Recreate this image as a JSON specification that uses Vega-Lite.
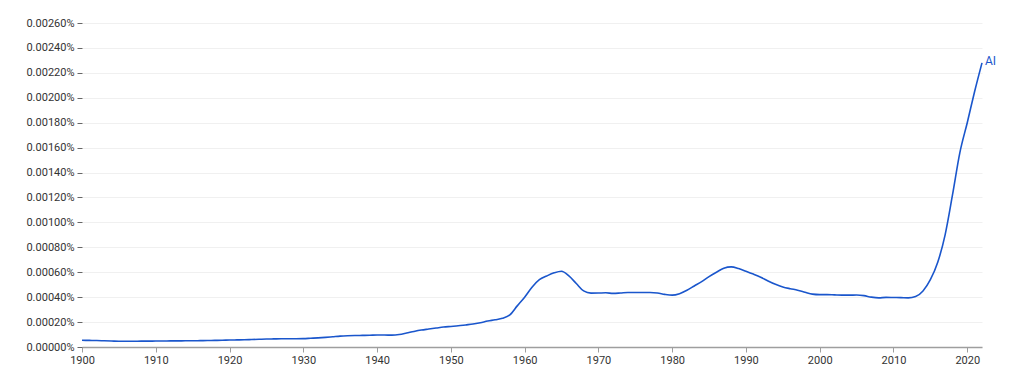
{
  "$schema": "https://vega.github.io/schema/vega-lite/v6.json",
  "width": 900,
  "height": 324,
  "autosize": {"type": "none"},
  "padding": {"left": 82, "top": 23, "right": 42, "bottom": 28},
  "config": {
    "font": "Roboto",
    "view": {"stroke": null},
    "axis": {"labelFont": "Roboto", "labelFontSize": 11, "labelColor": "#333333"}
  },
  "data": {
    "values": [
      {"year":1900,"v":0.000054,"term":"AI"},{"year":1901,"v":0.000053,"term":"AI"},{"year":1902,"v":0.000052,"term":"AI"},{"year":1903,"v":0.000050,"term":"AI"},{"year":1904,"v":0.000048,"term":"AI"},
      {"year":1905,"v":0.000046,"term":"AI"},{"year":1906,"v":0.000046,"term":"AI"},{"year":1907,"v":0.000046,"term":"AI"},{"year":1908,"v":0.000047,"term":"AI"},{"year":1909,"v":0.000047,"term":"AI"},
      {"year":1910,"v":0.000048,"term":"AI"},{"year":1911,"v":0.000048,"term":"AI"},{"year":1912,"v":0.000049,"term":"AI"},{"year":1913,"v":0.000049,"term":"AI"},{"year":1914,"v":0.000050,"term":"AI"},
      {"year":1915,"v":0.000050,"term":"AI"},{"year":1916,"v":0.000051,"term":"AI"},{"year":1917,"v":0.000052,"term":"AI"},{"year":1918,"v":0.000053,"term":"AI"},{"year":1919,"v":0.000054,"term":"AI"},
      {"year":1920,"v":0.000056,"term":"AI"},{"year":1921,"v":0.000057,"term":"AI"},{"year":1922,"v":0.000058,"term":"AI"},{"year":1923,"v":0.000060,"term":"AI"},{"year":1924,"v":0.000062,"term":"AI"},
      {"year":1925,"v":0.000064,"term":"AI"},{"year":1926,"v":0.000065,"term":"AI"},{"year":1927,"v":0.000066,"term":"AI"},{"year":1928,"v":0.000066,"term":"AI"},{"year":1929,"v":0.000066,"term":"AI"},
      {"year":1930,"v":0.000067,"term":"AI"},{"year":1931,"v":0.000070,"term":"AI"},{"year":1932,"v":0.000073,"term":"AI"},{"year":1933,"v":0.000077,"term":"AI"},{"year":1934,"v":0.000082,"term":"AI"},
      {"year":1935,"v":0.000087,"term":"AI"},{"year":1936,"v":0.000090,"term":"AI"},{"year":1937,"v":0.000092,"term":"AI"},{"year":1938,"v":0.000093,"term":"AI"},{"year":1939,"v":0.000094,"term":"AI"},
      {"year":1940,"v":0.000096,"term":"AI"},{"year":1941,"v":0.000096,"term":"AI"},{"year":1942,"v":0.000095,"term":"AI"},{"year":1943,"v":0.000100,"term":"AI"},{"year":1944,"v":0.000112,"term":"AI"},
      {"year":1945,"v":0.000125,"term":"AI"},{"year":1946,"v":0.000136,"term":"AI"},{"year":1947,"v":0.000144,"term":"AI"},{"year":1948,"v":0.000152,"term":"AI"},{"year":1949,"v":0.000160,"term":"AI"},
      {"year":1950,"v":0.000165,"term":"AI"},{"year":1951,"v":0.000170,"term":"AI"},{"year":1952,"v":0.000177,"term":"AI"},{"year":1953,"v":0.000184,"term":"AI"},{"year":1954,"v":0.000195,"term":"AI"},
      {"year":1955,"v":0.000208,"term":"AI"},{"year":1956,"v":0.000218,"term":"AI"},{"year":1957,"v":0.000230,"term":"AI"},{"year":1958,"v":0.000258,"term":"AI"},{"year":1959,"v":0.000330,"term":"AI"},
      {"year":1960,"v":0.000400,"term":"AI"},{"year":1961,"v":0.000480,"term":"AI"},{"year":1962,"v":0.000540,"term":"AI"},{"year":1963,"v":0.000570,"term":"AI"},{"year":1964,"v":0.000595,"term":"AI"},
      {"year":1965,"v":0.000608,"term":"AI"},{"year":1966,"v":0.000570,"term":"AI"},{"year":1967,"v":0.000510,"term":"AI"},{"year":1968,"v":0.000450,"term":"AI"},{"year":1969,"v":0.000432,"term":"AI"},
      {"year":1970,"v":0.000433,"term":"AI"},{"year":1971,"v":0.000435,"term":"AI"},{"year":1972,"v":0.000430,"term":"AI"},{"year":1973,"v":0.000433,"term":"AI"},{"year":1974,"v":0.000437,"term":"AI"},
      {"year":1975,"v":0.000437,"term":"AI"},{"year":1976,"v":0.000437,"term":"AI"},{"year":1977,"v":0.000437,"term":"AI"},{"year":1978,"v":0.000433,"term":"AI"},{"year":1979,"v":0.000422,"term":"AI"},
      {"year":1980,"v":0.000416,"term":"AI"},{"year":1981,"v":0.000428,"term":"AI"},{"year":1982,"v":0.000455,"term":"AI"},{"year":1983,"v":0.000490,"term":"AI"},{"year":1984,"v":0.000525,"term":"AI"},
      {"year":1985,"v":0.000565,"term":"AI"},{"year":1986,"v":0.000600,"term":"AI"},{"year":1987,"v":0.000632,"term":"AI"},{"year":1988,"v":0.000643,"term":"AI"},{"year":1989,"v":0.000630,"term":"AI"},
      {"year":1990,"v":0.000608,"term":"AI"},{"year":1991,"v":0.000585,"term":"AI"},{"year":1992,"v":0.000560,"term":"AI"},{"year":1993,"v":0.000530,"term":"AI"},{"year":1994,"v":0.000503,"term":"AI"},
      {"year":1995,"v":0.000482,"term":"AI"},{"year":1996,"v":0.000468,"term":"AI"},{"year":1997,"v":0.000456,"term":"AI"},{"year":1998,"v":0.000440,"term":"AI"},{"year":1999,"v":0.000424,"term":"AI"},
      {"year":2000,"v":0.000420,"term":"AI"},{"year":2001,"v":0.000420,"term":"AI"},{"year":2002,"v":0.000418,"term":"AI"},{"year":2003,"v":0.000416,"term":"AI"},{"year":2004,"v":0.000416,"term":"AI"},
      {"year":2005,"v":0.000417,"term":"AI"},{"year":2006,"v":0.000412,"term":"AI"},{"year":2007,"v":0.000400,"term":"AI"},{"year":2008,"v":0.000394,"term":"AI"},{"year":2009,"v":0.000398,"term":"AI"},
      {"year":2010,"v":0.000397,"term":"AI"},{"year":2011,"v":0.000396,"term":"AI"},{"year":2012,"v":0.000394,"term":"AI"},{"year":2013,"v":0.000405,"term":"AI"},{"year":2014,"v":0.000450,"term":"AI"},
      {"year":2015,"v":0.000540,"term":"AI"},{"year":2016,"v":0.000680,"term":"AI"},{"year":2017,"v":0.000900,"term":"AI"},{"year":2018,"v":0.001220,"term":"AI"},{"year":2019,"v":0.001560,"term":"AI"},
      {"year":2020,"v":0.001800,"term":"AI"},{"year":2021,"v":0.002050,"term":"AI"},{"year":2022,"v":0.002280,"term":"AI"}
    ]
  },
  "encoding": {
    "x": {
      "field": "year", "type": "quantitative",
      "scale": {"domain": [1900, 2022], "nice": false, "zero": false},
      "axis": {
        "title": null, "values": [1900,1910,1920,1930,1940,1950,1960,1970,1980,1990,2000,2010,2020],
        "format": "d", "grid": false, "domainColor": "#9e9e9e", "domainWidth": 1.5,
        "tickColor": "#9e9e9e", "tickSize": 5, "labelPadding": 2, "labelFlush": false
      }
    },
    "y": {
      "field": "v", "type": "quantitative",
      "scale": {"domain": [0, 0.0026], "nice": false},
      "axis": {
        "title": null, "values": [0,0.0002,0.0004,0.0006,0.0008,0.001,0.0012,0.0014,0.0016,0.0018,0.002,0.0022,0.0024,0.0026],
        "labelExpr": "format(datum.value, '.5f') + '%'",
        "domain": false, "grid": true, "gridColor": "#f0f0f0",
        "tickColor": "#666666", "tickSize": 5, "tickOffset": 0, "labelPadding": 3
      }
    }
  },
  "layer": [
    {
      "mark": {"type": "line", "color": "#1a56cc", "strokeWidth": 1.6, "interpolate": "monotone"}
    },
    {
      "transform": [{"filter": "datum.year == 2022"}],
      "mark": {"type": "text", "align": "left", "baseline": "middle", "dx": 3, "dy": -2, "fontSize": 12, "color": "#1a56cc"},
      "encoding": {"text": {"field": "term"}}
    }
  ]
}
